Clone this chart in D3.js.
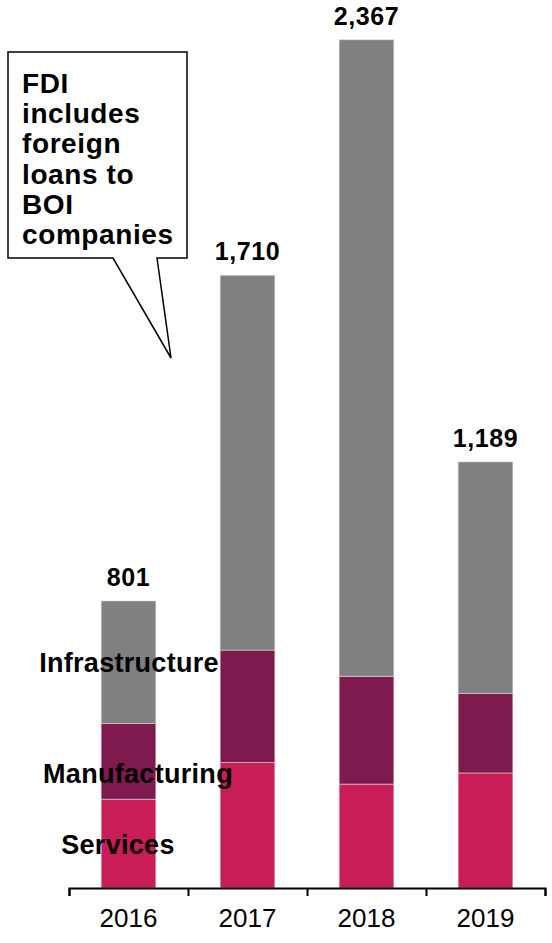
<!DOCTYPE html>
<html>
<head>
<meta charset="utf-8">
<script src="https://cdn.jsdelivr.net/npm/d3@7"></script>
<style>
    body { margin: 0; background: #fff; }
    text { font-family: Arial, "Liberation Sans", sans-serif; }
</style>
</head>
<body>
<svg id="drawing_region"></svg>
<script>
const years = ['2016', '2017', '2018', '2019'];
const series = ['Services', 'Manufacturing', 'Infrastructure'];
const services = [248, 350, 290, 321];
const manufacturing = [211, 314, 301, 222];
const infrastructure = [342, 1046, 1776, 646];
const totals = [801, 1710, 2367, 1189];
const totalLabels = ['801', '1,710', '2,367', '1,189'];
const calloutLines = ['FDI', 'includes', 'foreign', 'loans to', 'BOI', 'companies'];

const colors = { Services: '#c81d56', Manufacturing: '#7e1a4e', Infrastructure: '#808080' };

const width = 552, height = 943;

const svg = d3.select('#drawing_region')
    .attr('width', width)
    .attr('height', height);

const table = years.map((y, i) => ({
    year: y,
    Services: services[i],
    Manufacturing: manufacturing[i],
    Infrastructure: infrastructure[i],
    total: totals[i],
    label: totalLabels[i]
}));

const xscale = d3.scaleBand()
    .domain(years)
    .range([69, 545])
    .paddingInner(0.54)
    .paddingOuter(0.27);

const yscale = d3.scaleLinear()
    .domain([0, 2400])
    .range([888, 28]);

const stacked = d3.stack().keys(series)(table);

svg.append('g')
    .selectAll('g')
    .data(stacked)
    .join('g')
    .attr('fill', d => colors[d.key])
    .selectAll('rect')
    .data(d => d)
    .join('rect')
    .attr('x', d => xscale(d.data.year))
    .attr('width', xscale.bandwidth())
    .attr('y', d => yscale(d[1]))
    .attr('height', d => yscale(d[0]) - yscale(d[1]))
    .attr('stroke', '#d8d8d8')
    .attr('stroke-width', 0.6);

// totals above bars
svg.append('g')
    .selectAll('text')
    .data(table)
    .join('text')
    .attr('x', d => xscale(d.year) + xscale.bandwidth() / 2)
    .attr('y', d => yscale(d.total) - 15)
    .attr('text-anchor', 'middle')
    .style('font-weight', 'bold')
    .style('font-size', '25px')
    .style('letter-spacing', '0.6px')
    .text(d => d.label);

// axis with ticks at band edges
const edges = d3.scaleLinear().domain([0, years.length]).range(xscale.range());
const xaxis_group = svg.append('g')
    .attr('transform', 'translate(0, 888)')
    .call(d3.axisBottom(edges).ticks(years.length).tickSize(8).tickSizeOuter(8).tickFormat(''));
xaxis_group.selectAll('path, line')
    .attr('stroke', '#000')
    .attr('stroke-width', 2);

svg.append('g')
    .selectAll('text')
    .data(years)
    .join('text')
    .attr('x', d => xscale(d) + xscale.bandwidth() / 2)
    .attr('y', 927)
    .attr('text-anchor', 'middle')
    .style('font-size', '26px')
    .text(d => d);

// series labels on the first bar
const seriesLabelPos = {
    Infrastructure: { x: 129, y: 672 },
    Manufacturing: { x: 138, y: 783 },
    Services: { x: 118, y: 854 }
};
svg.append('g')
    .selectAll('text')
    .data(series)
    .join('text')
    .attr('x', d => seriesLabelPos[d].x)
    .attr('y', d => seriesLabelPos[d].y)
    .attr('text-anchor', 'middle')
    .style('font-weight', 'bold')
    .style('font-size', '27px')
    .style('letter-spacing', '0.3px')
    .text(d => d);

// callout
svg.append('path')
    .attr('d', 'M8,52 L187,52 L187,258 L157,258 L171,358 L113,258 L8,258 Z')
    .attr('fill', '#fff')
    .attr('stroke', '#000')
    .attr('stroke-width', 1.5);

svg.append('g')
    .selectAll('text')
    .data(calloutLines)
    .join('text')
    .attr('x', 22)
    .attr('y', (d, i) => 93 + i * 30.2)
    .style('font-weight', 'bold')
    .style('font-size', '28px')
    .style('letter-spacing', '0.6px')
    .text(d => d);
</script>
</body>
</html>
